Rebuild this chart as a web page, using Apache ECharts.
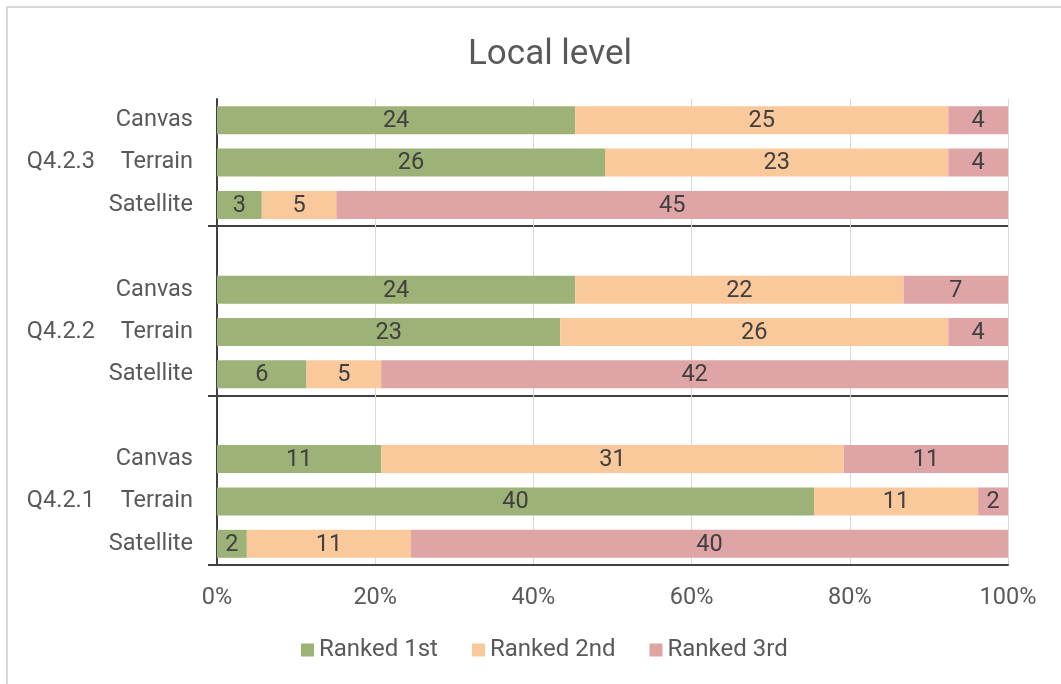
<!DOCTYPE html>
<html>
<head>
<meta charset="utf-8">
<title>Local level</title>
<script src="https://cdn.jsdelivr.net/npm/echarts@6/dist/echarts.min.js"></script>
<style>
  html, body { margin: 0; padding: 0; background: #ffffff; }
  #chart { width: 1061px; height: 684px; }
</style>
</head>
<body>
<div id="chart"></div>
<script>
// Rows top to bottom; '' rows are spacer rows between question groups.
const rowLabels = ['Canvas', 'Terrain', 'Satellite', '', 'Canvas', 'Terrain', 'Satellite', '', 'Canvas', 'Terrain', 'Satellite'];
// Group captions, placed on the middle row of each group.
const groupLabels = ['', 'Q4.2.3', '', '', '', 'Q4.2.2', '', '', '', 'Q4.2.1', ''];
const seriesNames = ['Ranked 1st', 'Ranked 2nd', 'Ranked 3rd'];
// Respondent counts per row (null on spacer rows).
const ranked1st = [24, 26, 3, null, 24, 23, 6, null, 11, 40, 2];
const ranked2nd = [25, 23, 5, null, 22, 26, 5, null, 31, 11, 11];
const ranked3rd = [4, 4, 45, null, 7, 4, 42, null, 11, 2, 40];
const xTicks = [0, 20, 40, 60, 80, 100];

const colors = ['#9DB276', '#F9C89B', '#DFA4A5'];
const counts = [ranked1st, ranked2nd, ranked3rd];
const totals = rowLabels.map((_, i) =>
  counts.reduce((s, arr) => s + (arr[i] == null ? 0 : arr[i]), 0));

const FONT = 'Roboto, "Noto Sans", sans-serif';
const LABEL_SIZE = 23.5;
const chart = echarts.init(document.getElementById('chart'), null, { renderer: 'canvas' });

const series = counts.map((arr, k) => ({
  name: seriesNames[k],
  type: 'bar',
  stack: 'share',
  yAxisIndex: 0,
  barWidth: 28,
  itemStyle: { color: colors[k] },
  label: {
    show: true,
    position: 'inside',
    offset: [0, 1],
    color: '#404040',
    fontSize: LABEL_SIZE,
    fontFamily: FONT,
    formatter: p => {
      const v = arr[p.dataIndex];
      return v == null ? '' : String(v);
    }
  },
  data: arr.map((v, i) => v == null ? null : (v / totals[i]) * 100)
}));

const separatorRows = i => i === 3 || i === 7;

chart.setOption({
  animation: false,
  backgroundColor: '#ffffff',
  textStyle: { fontFamily: FONT },
  title: {
    text: 'Local level',
    left: 463,
    top: 33,
    textStyle: { fontSize: 35, fontWeight: 'normal', color: '#595959', fontFamily: FONT }
  },
  legend: {
    data: seriesNames,
    bottom: 17,
    left: 296,
    icon: 'rect',
    itemWidth: 13,
    itemHeight: 13,
    itemGap: 34,
    textStyle: { fontSize: 24, color: '#595959', fontFamily: FONT }
  },
  grid: { left: 217, right: 53, top: 99, bottom: 119, containLabel: false },
  xAxis: {
    type: 'value',
    min: xTicks[0],
    max: xTicks[xTicks.length - 1],
    interval: xTicks[1] - xTicks[0],
    axisLine: { show: true, lineStyle: { color: '#404040', width: 2 } },
    axisTick: { show: false },
    axisLabel: { formatter: '{value}%', fontSize: LABEL_SIZE, color: '#595959', margin: 21, fontFamily: FONT },
    splitLine: { show: true, lineStyle: { color: '#D9D9D9', width: 1 } }
  },
  yAxis: [
    {
      type: 'category',
      inverse: true,
      data: rowLabels,
      axisLine: { show: true, lineStyle: { color: '#404040', width: 2 } },
      axisTick: {
        show: true,
        interval: separatorRows,
        length: 9,
        lineStyle: { color: '#404040', width: 2 }
      },
      axisLabel: { fontSize: LABEL_SIZE, color: '#595959', margin: 24, interval: 0, fontFamily: FONT },
      splitLine: {
        show: true,
        interval: separatorRows,
        lineStyle: { color: '#404040', width: 2 }
      }
    },
    {
      type: 'category',
      inverse: true,
      position: 'left',
      data: groupLabels,
      axisLine: { show: false },
      axisTick: { show: false },
      splitLine: { show: false },
      axisLabel: { fontSize: LABEL_SIZE, color: '#595959', margin: 122, interval: 0, fontFamily: FONT }
    }
  ],
  graphic: [
    {
      type: 'rect',
      shape: { x: 7, y: 7, width: 1200, height: 800 },
      style: { fill: 'none', stroke: '#D9D9D9', lineWidth: 2 },
      silent: true,
      z: -1
    }
  ],
  series: series
});
</script>
</body>
</html>
